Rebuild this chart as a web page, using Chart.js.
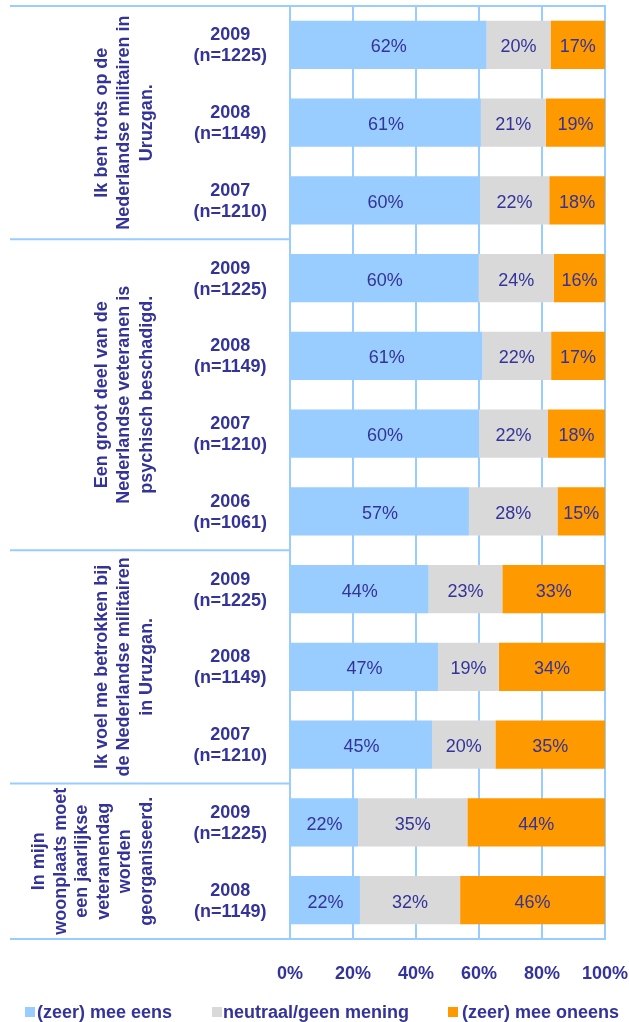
<!DOCTYPE html>
<html>
<head>
<meta charset="utf-8">
<script src="https://cdn.jsdelivr.net/npm/chart.js@4/dist/chart.umd.min.js"></script>
<style>
  html, body { margin: 0; padding: 0; background: #ffffff; overflow: hidden; }
  #wrap { width: 629px; height: 1022px; }
</style>
</head>
<body>
<div id="wrap"><canvas id="c" width="629" height="1022"></canvas></div>
<script>
// ---- data ----
const years = ['2009', '2008', '2007', '2009', '2008', '2007', '2006', '2009', '2008', '2007', '2009', '2008'];
const sampleSizes = ['(n=1225)', '(n=1149)', '(n=1210)', '(n=1225)', '(n=1149)', '(n=1210)', '(n=1061)', '(n=1225)', '(n=1149)', '(n=1210)', '(n=1225)', '(n=1149)'];
const agree    = [62.4, 60.6, 60.3, 59.8, 61.1, 60.0, 56.8, 44.0, 47.0, 45.1, 21.6, 22.2];
const neutral  = [20.3, 20.6, 22.0, 24.0, 21.8, 21.9, 28.1, 23.4, 19.3, 20.1, 34.7, 31.8];
const disagree = [17.3, 18.8, 17.7, 16.2, 17.1, 18.1, 15.1, 32.6, 33.7, 34.8, 43.7, 46.0];
const seriesNames = ['(zeer) mee eens', 'neutraal/geen mening', '(zeer) mee oneens'];
const groupSizes = [3, 4, 3, 2];
const groupLabels = [
  ['Ik ben trots op de', 'Nederlandse militairen in', 'Uruzgan.'],
  ['Een groot deel van de', 'Nederlandse veteranen is', 'psychisch beschadigd.'],
  ['Ik voel me betrokken bij', 'de Nederlandse militairen', 'in Uruzgan.'],
  ['In mijn', 'woonplaats moet', 'een jaarlijkse', 'veteranendag', 'worden', 'georganiseerd.']
];
const xTicks = [0, 20, 40, 60, 80, 100];

// ---- styling ----
const NAVY = '#333399';
const LINE = '#99ccff';
const COLORS = ['#99ccff', '#d9d9d9', '#ff9900'];
const FONT = 'Arial, "Liberation Sans", sans-serif';
Chart.defaults.font.family = FONT;
Chart.defaults.color = NAVY;

const categories = years.map((y, i) => [y, sampleSizes[i]]);

const groupPlugin = {
  id: 'groupPlugin',
  beforeDatasetsDraw(chart) {
    const ctx = chart.ctx;
    const y = chart.scales.y;
    const area = chart.chartArea;
    ctx.save();
    ctx.strokeStyle = LINE;
    ctx.lineWidth = 2;
    ctx.beginPath();
    ctx.moveTo(10, area.top); ctx.lineTo(area.right + 1, area.top);
    ctx.moveTo(10, area.bottom); ctx.lineTo(area.right + 1, area.bottom);
    let idx = 0;
    for (let g = 0; g < groupSizes.length - 1; g++) {
      idx += groupSizes[g];
      const py = (y.getPixelForValue(idx - 1) + y.getPixelForValue(idx)) / 2;
      ctx.moveTo(10, py); ctx.lineTo(area.left, py);
    }
    ctx.stroke();
    ctx.restore();
  },
  afterDraw(chart) {
    const ctx = chart.ctx;
    const y = chart.scales.y;
    ctx.save();
    ctx.fillStyle = NAVY;
    ctx.font = 'bold 18px ' + FONT;
    ctx.textAlign = 'center';
    ctx.textBaseline = 'middle';
    let start = 0;
    groupSizes.forEach((n, g) => {
      const first = y.getPixelForValue(start);
      const last = y.getPixelForValue(start + n - 1);
      const cy = (first + last) / 2;
      const lines = groupLabels[g];
      const spacing = lines.length > 3 ? 21.6 : 22.5;
      ctx.save();
      ctx.translate(0, cy);
      ctx.rotate(-Math.PI / 2);
      lines.forEach((t, i) => {
        const lx = 147 - spacing * (lines.length - 1 - i);
        ctx.fillText(t, 0, lx);
      });
      ctx.restore();
      start += n;
    });

    // legend
    const legendX = [[25, 37], [212, 223], [448, 462]];
    const ly = 1012;
    ctx.textAlign = 'left';
    seriesNames.forEach((name, i) => {
      ctx.fillStyle = COLORS[i];
      ctx.fillRect(legendX[i][0], ly - 5, 10, 10);
      ctx.fillStyle = NAVY;
      ctx.fillText(name, legendX[i][1], ly + 1);
    });
    ctx.restore();
  },
  afterDatasetsDraw(chart) {
    const ctx = chart.ctx;
    ctx.save();
    ctx.fillStyle = NAVY;
    ctx.font = '18px ' + FONT;
    ctx.textAlign = 'center';
    ctx.textBaseline = 'middle';
    chart.data.datasets.forEach((ds, di) => {
      const meta = chart.getDatasetMeta(di);
      meta.data.forEach((el, i) => {
        const cx = (el.x + el.base) / 2;
        ctx.fillText(Math.round(ds.data[i]) + '%', cx, el.y + 2.5);
      });
    });
    ctx.restore();
  }
};

new Chart(document.getElementById('c'), {
  type: 'bar',
  data: {
    labels: categories,
    datasets: [
      { label: seriesNames[0], data: agree, backgroundColor: COLORS[0] },
      { label: seriesNames[1], data: neutral, backgroundColor: COLORS[1] },
      { label: seriesNames[2], data: disagree, backgroundColor: COLORS[2] }
    ]
  },
  options: {
    indexAxis: 'y',
    responsive: false,
    animation: false,
    events: [],
    layout: { padding: { top: 6, right: 24, bottom: 38, left: 0 } },
    datasets: { bar: { barPercentage: 0.62, categoryPercentage: 1, borderWidth: 0 } },
    plugins: {
      legend: { display: false },
      tooltip: { enabled: false }
    },
    scales: {
      x: {
        stacked: true,
        min: 0,
        max: 100,
        afterBuildTicks: (s) => { s.ticks = xTicks.map(v => ({ value: v })); },
        afterFit: (s) => { s.height = 45; s.paddingLeft = 0; s.paddingRight = 0; },
        grid: { color: LINE, lineWidth: 2, drawTicks: false },
        border: { display: true, color: LINE, width: 2 },
        ticks: {
          padding: 24,
          font: { size: 18, weight: 'bold' },
          color: NAVY,
          callback: (v) => v + '%'
        }
      },
      y: {
        stacked: true,
        afterFit: (s) => { s.width = 290; s.paddingTop = 0; s.paddingBottom = 0; },
        grid: { display: false, drawTicks: false },
        border: { display: false },
        ticks: {
          autoSkip: false,
          crossAlign: 'center',
          padding: 23,
          labelOffset: 1,
          font: { size: 18, weight: 'bold', lineHeight: 1.17 },
          color: NAVY
        }
      }
    }
  },
  plugins: [groupPlugin]
});
</script>
</body>
</html>
